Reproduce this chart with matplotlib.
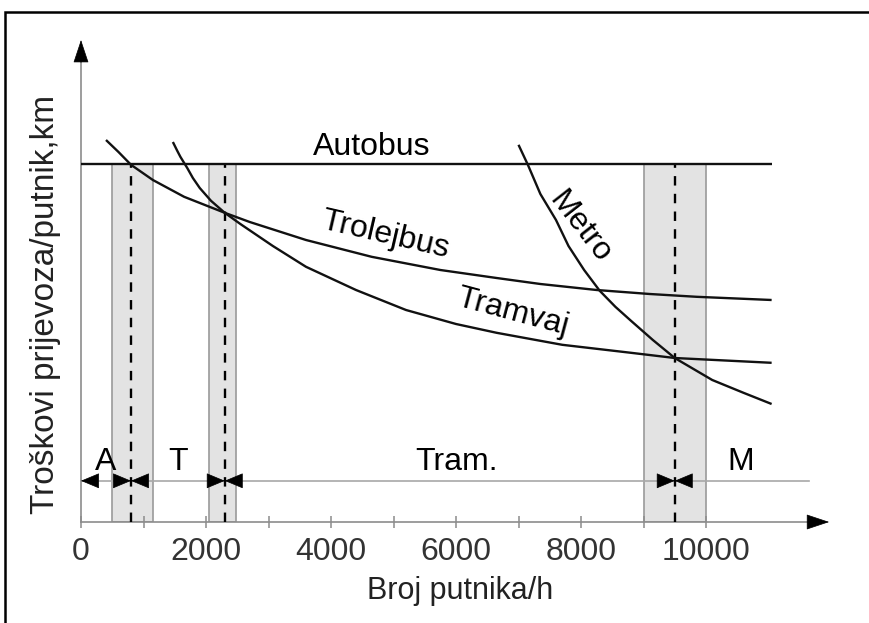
import matplotlib
matplotlib.use("Agg")
import matplotlib.pyplot as plt
from matplotlib.patches import Rectangle

plt.rcParams['font.family'] = ['Liberation Sans', 'DejaVu Sans']

# troškovi prijevoza (relativne jedinice) prema broju putnika/h
autobus_x = [0, 11050]
autobus_y = [89.5, 89.5]

trolejbus_x = [400, 600, 800, 1150, 1650, 2300, 2700, 3600, 4150, 4650, 5750, 6650,
               7350, 8250, 9100, 9850, 11050]
trolejbus_y = [95.5, 92.5, 89.3, 85.5, 81.3, 77.3, 75.0, 70.5, 68.3, 66.3, 63.0, 61.0,
               59.5, 58.0, 57.0, 56.3, 55.5]

tramvaj_x = [1470, 1540, 1590, 1700, 1790, 1900, 2080, 2300, 2550, 3070, 3600, 4400,
             5200, 6000, 6650, 7700, 8800, 9500, 11050]
tramvaj_y = [95.0, 92.8, 91.3, 88.5, 86.0, 83.5, 80.3, 77.3, 74.5, 69.0, 63.8, 58.0,
             53.0, 49.5, 47.3, 44.3, 42.3, 41.0, 39.8]

metro_x = [7000, 7150, 7350, 7600, 7800, 8050, 8300, 8550, 8800, 9150, 9500, 10100,
           10600, 11050]
metro_y = [94.3, 89.3, 82.0, 75.5, 69.0, 63.0, 57.8, 53.8, 50.3, 45.5, 41.0, 35.5,
           32.3, 29.5]

# prijelazna područja (sivo) i granice (crtkano)
band_lo = [500, 2050, 9000]
band_hi = [1150, 2480, 10000]
granice = [800, 2300, 9500]

# područja primjene
regije = ["A", "T", "Tram.", "M"]
regije_x = [400, 1550, 6000, 10550]

xticks = [0, 1000, 2000, 3000, 4000, 5000, 6000, 7000, 8000, 9000, 10000]
xticklabels = ["0", "", "2000", "", "4000", "", "6000", "", "8000", "", "10000"]

W, H = 869, 623
fig = plt.figure(figsize=(W / 100, H / 100), dpi=100)
# os: x=0 na 81 px, y=0 na 522 px
ax = fig.add_axes([81 / W, (H - 522) / H, 750 / W, 500 / H])
ax.set_xlim(0, 12000)
ax.set_ylim(0, 125)
for s in ax.spines.values():
    s.set_visible(False)

gray = '#8c8c8c'
y_row = 10.3
y_top = autobus_y[0]

# sivi pojasevi
for lo, hi in zip(band_lo, band_hi):
    ax.add_patch(Rectangle((lo, 0), hi - lo, y_top, facecolor='#e3e3e3',
                           edgecolor='#9a9a9a', lw=1.2, zorder=1))
for g in granice:
    ax.plot([g, g], [0, y_top], color='black', lw=1.7, ls=(0, (4, 3.5)), zorder=3)

# krivulje
kw = dict(color='#111111', lw=1.7, zorder=4, solid_capstyle='butt', solid_joinstyle='round')
ax.plot(autobus_x, autobus_y, **kw)
ax.plot(trolejbus_x, trolejbus_y, **kw)
ax.plot(tramvaj_x, tramvaj_y, **kw)
ax.plot(metro_x, metro_y, **kw)

fs = 23
ax.text(4650, 93.8, "Autobus", fontsize=fs, ha='center', va='center')
ax.text(4870, 71.8, "Trolejbus", fontsize=fs, ha='center', va='center', rotation=-13)
ax.text(6900, 52.5, "Tramvaj", fontsize=fs, ha='center', va='center', rotation=-15)
ax.text(7980, 73.8, "Metro", fontsize=fs, ha='center', va='center', rotation=-52)

# linija s područjima
ax.plot([0, 11650], [y_row, y_row], color='#a8a8a8', lw=1.2, zorder=2)
head = dict(arrowstyle='-|>,head_length=1.2,head_width=0.5', color='black',
            lw=0.5, shrinkA=0, shrinkB=0, mutation_scale=10)


def glava(x, y, dx, dy):
    ax.annotate('', xy=(x, y), xytext=(dx, dy), textcoords='offset points',
                arrowprops=head, annotation_clip=False, zorder=5)


glava(0, y_row, 12, 0)
for g in granice:
    glava(g, y_row, -12, 0)
    glava(g, y_row, 12, 0)
for r, rx in zip(regije, regije_x):
    ax.text(rx, 15.0, r, fontsize=fs, ha='center', va='center')

# osi sa strelicama
ax.plot([0, 11900], [0, 0], color=gray, lw=1.2, zorder=2, clip_on=False)
ax.plot([0, 0], [0, 118], color=gray, lw=1.2, zorder=2, clip_on=False)
axhead = dict(arrowstyle='-|>,head_length=1.5,head_width=0.5', color='black',
              lw=0.5, shrinkA=0, shrinkB=0, mutation_scale=10)
ax.annotate('', xy=(11970, 0), xytext=(-15, 0), textcoords='offset points',
            arrowprops=axhead, annotation_clip=False)
ax.annotate('', xy=(0, 120.5), xytext=(0, -16), textcoords='offset points',
            arrowprops=axhead, annotation_clip=False)

ax.set_xticks(xticks)
ax.set_xticklabels(xticklabels, fontsize=fs, color='#333333')
ax.tick_params(axis='x', direction='inout', length=9, width=1.1, color=gray, pad=6)
ax.set_yticks([])

fig.text(460 / W, 1 - 591 / H, "Broj putnika/h", fontsize=22, ha='center', va='center',
         color='#222222')
fig.text(46 / W, 1 - 304 / H, "Troškovi prijevoza/putnik,km", fontsize=24, ha='center',
         va='center', rotation=90, color='#222222')

# okvir slike
fig.patches.append(Rectangle((5 / W, -0.1), 1.2, 1.1 - 12 / H, transform=fig.transFigure,
                             fill=False, edgecolor='black', lw=1.8))

fig.savefig("out.png", dpi=100)
